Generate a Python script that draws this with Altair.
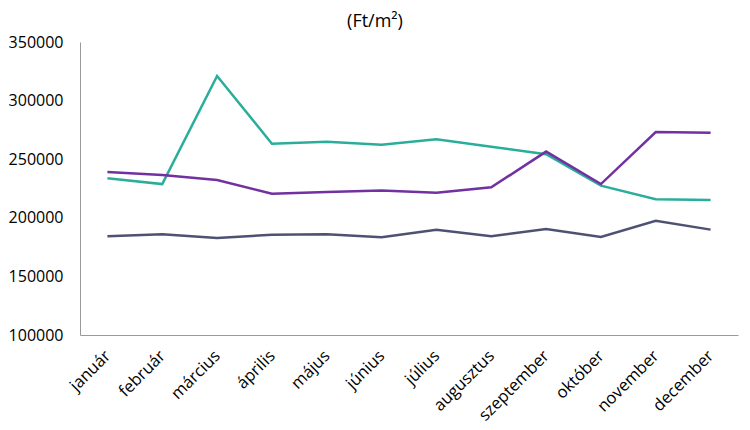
import altair as alt
import pandas as pd

months = ["január", "február", "március", "április", "május", "június",
          "július", "augusztus", "szeptember", "október", "november", "december"]
series_a = [233700, 228800, 321000, 263200, 264900, 262400, 267000, 260700, 254200, 227400, 215800, 215200]
series_b = [239100, 236500, 232300, 220600, 222000, 223200, 221400, 226000, 256500, 228800, 273200, 272600]
series_c = [184200, 185900, 182800, 185600, 185900, 183400, 189900, 184200, 190400, 183600, 197500, 189900]
series_names = ["A", "B", "C"]
colors = ["#2AAE9B", "#7131A1", "#4D5272"]

rows = []
for name, vals in zip(series_names, [series_a, series_b, series_c]):
    for m, v in zip(months, vals):
        rows.append({"month": m, "value": v, "series": name})
df = pd.DataFrame(rows)

font = "Open Sans"

chart = alt.Chart(df).mark_line(strokeWidth=2.5).encode(
    x=alt.X("month:N", sort=months, title=None,
            scale=alt.Scale(paddingInner=0, paddingOuter=0),
            axis=alt.Axis(labelAngle=-45, labelAlign="right", labelBaseline="middle",
                          labelPadding=18, ticks=False, domainColor="#9A9A9A",
                          labelFont=font, labelFontSize=16.5, labelColor="#000000",
                          labelOverlap=False)),
    y=alt.Y("value:Q", title=None,
            scale=alt.Scale(domain=[100000, 350000], nice=False, zero=False),
            axis=alt.Axis(values=[100000, 150000, 200000, 250000, 300000, 350000],
                          grid=False, ticks=False, domainColor="#9A9A9A",
                          labelFont=font, labelFontSize=16, labelColor="#000000",
                          labelPadding=17, format="d")),
    color=alt.Color("series:N", scale=alt.Scale(domain=series_names, range=colors), legend=None),
).properties(
    width=658, height=293,
    title=alt.TitleParams("(Ft/m²)", font=font, fontSize=18, fontWeight="normal",
                          anchor="middle", dx=-34, offset=3, color="#000000"),
    padding={"left": 72, "top": 34, "right": 2, "bottom": 92},
    autosize=alt.AutoSizeParams(type="none"),
).configure_view(stroke=None)

chart.save("out.html", embed_options={"renderer": "svg", "actions": False})
